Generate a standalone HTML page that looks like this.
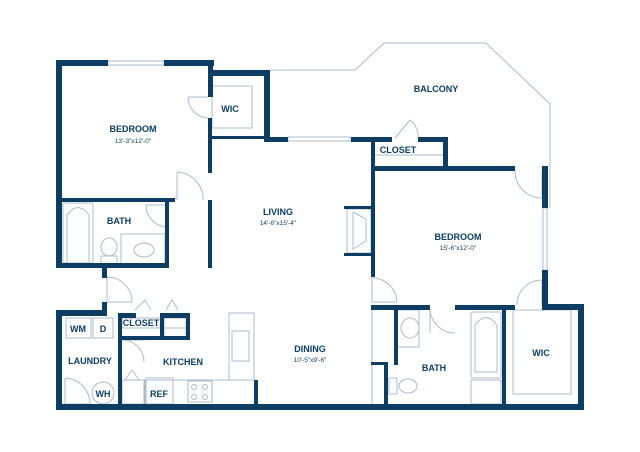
<!DOCTYPE html>
<html><head><meta charset="utf-8"><style>
html,body{margin:0;padding:0;background:#fff;width:640px;height:452px;overflow:hidden}
svg{display:block}
.t{font-family:"Liberation Sans",sans-serif;font-weight:bold;fill:#0d3d63;font-size:9px;text-anchor:middle}
.s{font-family:"Liberation Sans",sans-serif;fill:#0d3d63;font-size:6.5px;text-anchor:middle}
</style></head><body>
<svg width="640" height="452" viewBox="0 0 640 452" xmlns="http://www.w3.org/2000/svg">
<g fill="none" stroke="#a9bccd" stroke-width="1">
<!-- balcony -->
<polyline points="270,70 355,70 384,43 486,43 550,104 550,208"/>
<!-- windows -->
<rect x="108" y="61" width="56" height="4"/>
<rect x="288" y="137" width="63" height="4"/>
<rect x="543" y="208" width="4" height="62"/>
<!-- WIC shelf -->
<rect x="212" y="86" width="40" height="42"/>
<!-- doors -->
<path d="M188,97 L208,97 M188,97 A21,21 0 0 0 208,118"/>
<path d="M177,172 L177,200 M177,172 A27,27 0 0 1 203,200"/>
<path d="M146,205 L168,205 M146,205 A22,22 0 0 0 168,227"/>
<path d="M107,277 L107,302 M107,277 A25,25 0 0 1 132,302 L107,302"/>
<path d="M122,340 L145,340 M122,340 A22,22 0 0 1 144,362"/>
<path d="M65,378 L65,404 L90,404 M65,378 A26,26 0 0 1 90,404"/>
<path d="M372,278 L372,302 L397,302 M372,278 A25,25 0 0 1 397,302"/>
<path d="M515,171 A27,27 0 0 0 542,198 L542,171"/>
<path d="M517,305 A25,25 0 0 1 542,280 L542,305"/>
<path d="M430,309 L430,333 M430,309 A25,25 0 0 0 455,333"/>
<path d="M395,138 L410,120 M410,120 A20,20 0 0 1 418,137"/>
<path d="M135,310 L145,300 L151,310 M166,310 L172,300 L178,310 M125,380 L132,370 L139,380"/>
<!-- closets -->
<line x1="375" y1="155" x2="443" y2="155"/>
<rect x="122" y="318" width="64" height="10"/>
<rect x="164" y="318" width="22" height="20"/>
<rect x="122" y="380" width="22" height="24"/>
<!-- fireplace -->
<rect x="347" y="209" width="24" height="44"/>
<polyline points="353,212 366,219 366,241 353,249 353,212"/>
<!-- bath1 -->
<rect x="63" y="203" width="30" height="60" rx="2"/>
<path d="M67,263 L67,215 Q78,200 89,215 L89,263"/>
<rect x="121" y="234" width="44" height="30"/>
<ellipse cx="144" cy="250" rx="10" ry="7"/>
<ellipse cx="109" cy="247" rx="8" ry="9"/>
<rect x="101" y="256" width="16" height="8"/>
<!-- laundry -->
<rect x="66" y="318" width="25" height="20"/><rect x="93" y="318" width="20" height="20"/>
<circle cx="103" cy="393" r="11"/>
<!-- kitchen -->
<polyline points="229,380 229,313 254,313 254,380 229,380 145,380 145,404"/>
<rect x="232" y="331" width="17" height="30"/>
<rect x="146" y="378" width="27" height="26"/>
<rect x="188" y="381" width="24" height="21"/>
<circle cx="194" cy="387" r="2.5"/><circle cx="205" cy="387" r="2.5"/><circle cx="194" cy="397" r="2.5"/><circle cx="205" cy="397" r="2.5"/>
<!-- bath2 -->
<line x1="372" y1="310" x2="372" y2="404"/>
<rect x="397" y="310" width="22" height="37"/>
<ellipse cx="410" cy="328" rx="9" ry="10"/>
<ellipse cx="408" cy="386" rx="9" ry="7"/>
<rect x="389" y="378" width="8" height="16"/>
<rect x="471" y="312" width="30" height="66" rx="2"/>
<path d="M475,372 L475,325 Q486,310 497,325 L497,372 Z"/>
<rect x="471" y="380" width="30" height="24"/>
<rect x="513" y="310" width="58" height="84"/>
</g>
<g fill="#0d3d63">
<!-- left bedroom -->
<rect x="56" y="60" width="6" height="208"/>
<rect x="56" y="60" width="52" height="6"/>
<rect x="164" y="60" width="50" height="6"/>
<rect x="208" y="60" width="5" height="37"/>
<rect x="208" y="118" width="4" height="55"/>
<rect x="208" y="200" width="4" height="68"/>
<rect x="212" y="70" width="58" height="6"/>
<rect x="264" y="70" width="6" height="71"/>
<rect x="212" y="136" width="58" height="3"/>
<rect x="264" y="137" width="24" height="5"/>
<rect x="351" y="137" width="41" height="5"/>
<rect x="418" y="137" width="30" height="5"/>
<rect x="443" y="137" width="5" height="34"/>
<rect x="371" y="166" width="144" height="5"/>
<rect x="542" y="166" width="6" height="42"/>
<rect x="542" y="270" width="6" height="40"/>
<rect x="542" y="304" width="42" height="6"/>
<rect x="578" y="304" width="6" height="106"/>
<rect x="371" y="137" width="4" height="140"/>
<rect x="344" y="206" width="27" height="3"/>
<rect x="344" y="253" width="27" height="3"/>
<rect x="56" y="198" width="119" height="4"/>
<rect x="165" y="198" width="4" height="70"/>
<rect x="56" y="263" width="113" height="5"/>
<rect x="102" y="268" width="5" height="10"/>
<rect x="102" y="302" width="5" height="10"/>
<!-- laundry & kitchen -->
<rect x="56" y="310" width="51" height="6"/>
<rect x="56" y="310" width="6" height="100"/>
<rect x="118" y="313" width="4" height="97"/>
<rect x="118" y="313" width="18" height="5"/>
<rect x="186" y="313" width="4" height="27"/>
<rect x="160" y="313" width="30" height="5"/>
<rect x="122" y="336" width="68" height="4"/>
<rect x="160" y="318" width="4" height="20"/>
<rect x="254" y="380" width="4" height="30"/>
<rect x="56" y="404" width="528" height="6"/>
<!-- bath 2 -->
<rect x="371" y="305" width="59" height="5"/>
<rect x="455" y="305" width="60" height="5"/>
<rect x="394" y="309" width="4" height="56"/>
<rect x="384" y="362" width="4" height="48"/>
<rect x="371" y="362" width="16" height="3"/>
<rect x="502" y="309" width="4" height="100"/>
</g>
<text class="t" x="133" y="132">BEDROOM</text><text class="s" x="133" y="143">13'-3"x12'-0"</text>
<text class="t" x="230" y="112">WIC</text>
<text class="t" x="436" y="92">BALCONY</text>
<text class="t" x="398" y="153">CLOSET</text>
<text class="t" x="278" y="215">LIVING</text><text class="s" x="278" y="225">14'-6"x15'-4"</text>
<text class="t" x="458" y="240">BEDROOM</text><text class="s" x="458" y="250">15'-6"x12'-0"</text>
<text class="t" x="119" y="224">BATH</text>
<text class="t" x="141" y="326">CLOSET</text>
<text class="t" x="78" y="332">WM</text><text class="t" x="103" y="332">D</text>
<text class="t" x="90" y="364">LAUNDRY</text>
<text class="t" x="103" y="397">WH</text>
<text class="t" x="183" y="365">KITCHEN</text>
<text class="t" x="159" y="397">REF</text>
<text class="t" x="310" y="352">DINING</text><text class="s" x="310" y="362">10'-5"x9'-6"</text>
<text class="t" x="434" y="371">BATH</text>
<text class="t" x="541" y="356">WIC</text>
</svg>
</body></html>
